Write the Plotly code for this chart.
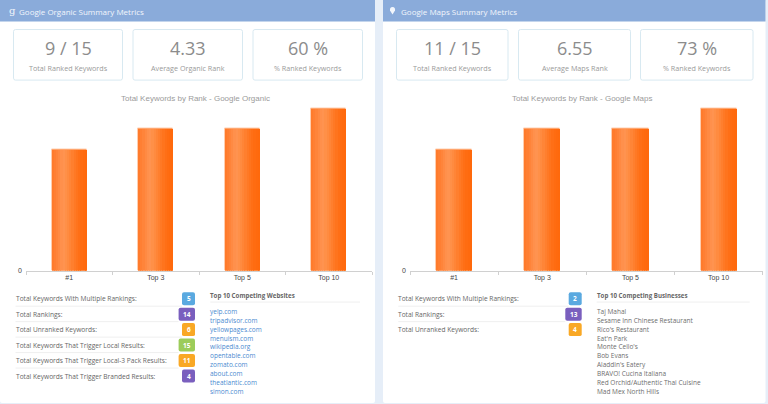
import plotly.graph_objects as go

W, H = 768, 404
# the figure renders slightly short of its requested height, so vertical positions are scaled by this
H_LAYOUT = 400.5

rank_labels = ["#1", "Top 3", "Top 5", "Top 10"]
organic_counts = [6, 7, 7, 8]
maps_counts = [6, 7, 7, 8]

organic_cards = [("9 / 15", "Total Ranked Keywords"), ("4.33", "Average Organic Rank"), ("60 %", "% Ranked Keywords")]
maps_cards = [("11 / 15", "Total Ranked Keywords"), ("6.55", "Average Maps Rank"), ("73 %", "% Ranked Keywords")]

organic_stats = ["Total Keywords With Multiple Rankings:", "Total Rankings:", "Total Unranked Keywords:",
                 "Total Keywords That Trigger Local Results:", "Total Keywords That Trigger Local-3 Pack Results:",
                 "Total Keywords That Trigger Branded Results:"]
organic_stat_values = [5, 14, 6, 15, 11, 4]
organic_stat_colors = ["#5AA9E0", "#7A5FBE", "#F9A825", "#9CCC5A", "#F9A825", "#7A5FBE"]

maps_stats = ["Total Keywords With Multiple Rankings:", "Total Rankings:", "Total Unranked Keywords:"]
maps_stat_values = [2, 13, 4]
maps_stat_colors = ["#5AA9E0", "#7A5FBE", "#F9A825"]

competing_sites = ["yelp.com", "tripadvisor.com", "yellowpages.com", "menuism.com", "wikipedia.org",
                   "opentable.com", "zomato.com", "about.com", "theatlantic.com", "simon.com"]
competing_businesses = ["Taj Mahal", "Sesame Inn Chinese Restaurant", "Rico's Restaurant", "Eat'n Park",
                        "Monte Cello's", "Bob Evans", "Aladdin's Eatery", "BRAVO! Cucina Italiana",
                        "Red Orchid/Authentic Thai Cuisine", "Mad Mex North Hills"]

# horizontal shading of the bars, left edge to right edge
bar_shades = ["#FF7B2C", "#FF7F33", "#FF843A", "#FF8A43", "#FF904C", "#FF9350", "#FF9048", "#FF8B40",
              "#FF8537", "#FF7F2E", "#FF7925", "#FF741D", "#FF6F16", "#FF6C11", "#FF6A0E", "#FF690C"]
BAR_W = 0.41
Y_MAX = 8.4


def fx(x):
    return x / W


def fy(y):
    return 1 - y / H_LAYOUT


def rounded(x0, y0, x1, y1, r):
    a, b, c, d = fx(x0), fx(x1), fy(y0), fy(y1)
    rx, ry = r / W, r / H
    return (f"M{a+rx},{c} L{b-rx},{c} Q{b},{c} {b},{c-ry} L{b},{d+ry} Q{b},{d} {b-rx},{d} "
            f"L{a+rx},{d} Q{a},{d} {a},{d+ry} L{a},{c-ry} Q{a},{c} {a+rx},{c} Z")


fig = go.Figure()
shapes, notes = [], []


def text(x, y, s, size, color, anchor="left", family="Open Sans", weight=None):
    notes.append(dict(x=fx(x), y=fy(y), xref="paper", yref="paper", text=s, showarrow=False, xanchor=anchor,
                      yanchor="middle", align=anchor, borderpad=0,
                      font=dict(size=size, color=color, family=family, weight=weight)))


def bars(counts, axis_x, axis_y):
    fig.add_trace(go.Bar(x=rank_labels, y=counts, width=BAR_W, xaxis=axis_x, yaxis=axis_y, showlegend=False,
                         marker=dict(color="#FF7A28", line=dict(color="#FFCDAE", width=1))))
    step = BAR_W / len(bar_shades)
    for i, shade in enumerate(bar_shades):
        fig.add_trace(go.Bar(x=rank_labels, y=counts, offset=-BAR_W / 2 + i * step,
                             width=step * (1.4 if i < len(bar_shades) - 1 else 1), xaxis=axis_x, yaxis=axis_y,
                             showlegend=False, marker=dict(color=shade, line=dict(width=0))))


def panel(left, right, title, title_pos, cards, card_x, chart_title, title_x, stats, values, colors, row_x, badge_right,
          list_title, list_x, list_end, items, item_color):
    shapes.append(dict(type="path", path=rounded(left, 0, right, 402.5, 2), xref="paper", yref="paper",
                       fillcolor="#FFFFFF", line=dict(width=0), layer="below"))
    shapes.append(dict(type="rect", x0=fx(left), x1=fx(right), y0=fy(0), y1=fy(21.5), xref="paper", yref="paper",
                       fillcolor="#8AABDA", line=dict(width=0), layer="below"))
    text(title_pos, 11, title, 8.0, "#F2F6FC")

    for (big, small), (x0, x1) in zip(cards, card_x):
        shapes.append(dict(type="path", path=rounded(x0, 29.5, x1, 80, 2), xref="paper", yref="paper",
                           fillcolor="#FFFFFF", line=dict(color="#D8E9F1", width=1), layer="below"))
        text((x0 + x1) / 2, 48, big, 18, "#8C8C8C", "center")
        text((x0 + x1) / 2, 67.5, small, 7.2, "#9A9A9A", "center")

    text(title_x, 98.5, chart_title, 8.0, "#9B9B9B", "center", "Liberation Sans")

    for i, (label, value, color) in enumerate(zip(stats, values, colors)):
        y = 298.3 + i * 15.45
        text(row_x - 1, y, label, 6.6, "#666666")
        half = 8.2 if value > 9 else 6.5
        shapes.append(dict(type="path", path=rounded(badge_right - 2 * half, y - 6.5, badge_right, y + 6.5, 2),
                           xref="paper", yref="paper", fillcolor=color, line=dict(width=0), layer="below"))
        text(badge_right - half, y, str(value), 6.5, "#FFFFFF", "center", weight="bold")
        if i < len(stats) - 1:
            shapes.append(dict(type="line", x0=fx(row_x), x1=fx(badge_right - 2 * half), y0=fy(y + 7.5), y1=fy(y + 7.5),
                               xref="paper", yref="paper", line=dict(color="#EFEFEF", width=1), layer="below"))

    text(list_x - 1, 294.7, list_title, 6.2, "#666666", weight="bold")
    shapes.append(dict(type="line", x0=fx(list_x), x1=fx(list_end), y0=fy(301.7), y1=fy(301.7), xref="paper",
                       yref="paper", line=dict(color="#EFEFEF", width=1), layer="below"))
    for i, item in enumerate(items):
        text(list_x - 1, 310.7 + i * 8.96, item, 6.5, item_color)


bars(organic_counts, "x", "y")
bars(maps_counts, "x2", "y2")

panel(0, 375, "Google Organic Summary Metrics", 18, organic_cards, [(13.5, 122.5), (133, 242.5), (253, 362.5)],
      "Total Keywords by Rank - Google Organic", 195, organic_stats, organic_stat_values, organic_stat_colors,
      15.5, 195, "Top 10 Competing Websites", 210.3, 360, competing_sites, "#4A8AD0")
panel(383, 765.5, "Google Maps Summary Metrics", 400, maps_cards, [(396.5, 508), (518.5, 630.5), (640.5, 753)],
      "Total Keywords by Rank - Google Maps", 582.3, maps_stats, maps_stat_values, maps_stat_colors,
      398.3, 581.7, "Top 10 Competing Businesses", 596.7, 749.7, competing_businesses, "#6E6E6E")

# header icons
text(8, 10.5, "g", 10, "#F2F6FC", "left", "DejaVu Serif")
shapes.append(dict(type="path", xref="paper", yref="paper", fillcolor="#F2F6FC", line=dict(width=0),
                   path=f"M{fx(392.5)},{fy(14.5)} L{fx(390)},{fy(10.5)} Q{fx(389.5)},{fy(7)} {fx(392.5)},{fy(7)} "
                        f"Q{fx(395.5)},{fy(7)} {fx(395)},{fy(10.5)} Z"))

axis_font = dict(size=7, color="#444444", family="Liberation Sans")
x_style = dict(type="category", categoryorder="array", categoryarray=rank_labels, tickfont=axis_font, ticks="outside",
               ticklen=3, tickcolor="#D0D0D0", tickson="boundaries", showgrid=False, zeroline=False, showline=True,
               linecolor="#D0D0D0", linewidth=1, fixedrange=True)
y_style = dict(range=[0, Y_MAX], tickvals=[0], ticktext=["0"], tickfont=axis_font, showgrid=False, zeroline=False,
               showline=False, ticks="", fixedrange=True, ticklabelstandoff=3)

plot_top, plot_bottom = 270.5 - Y_MAX * 20.25, 270.5

fig.update_layout(
    width=W, height=H, margin=dict(l=0, r=0, t=0, b=0), paper_bgcolor="#E6EEF8", plot_bgcolor="rgba(0,0,0,0)",
    barmode="overlay", bargap=0, showlegend=False, shapes=shapes, annotations=notes,
    xaxis=dict(domain=[fx(26), fx(372)], anchor="y", **x_style),
    yaxis=dict(domain=[fy(plot_bottom), fy(plot_top)], anchor="x", **y_style),
    xaxis2=dict(domain=[fx(410), fx(762.7)], anchor="y2", **x_style),
    yaxis2=dict(domain=[fy(plot_bottom), fy(plot_top)], anchor="x2", **y_style),
)

fig.write_html("out.html", config=dict(displayModeBar=False),
               post_script="document.body.style.margin='0';document.body.style.background='#E6EEF8';")
